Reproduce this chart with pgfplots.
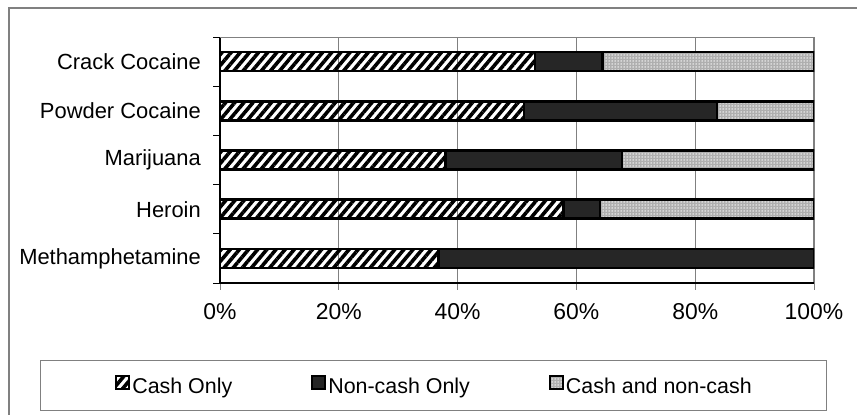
\documentclass[border=0pt]{standalone}
\usepackage{fontspec}
\setmainfont{Liberation Sans}
\usepackage{pgfplots}
\usepackage{pgfplotstable}
\pgfplotsset{compat=1.18}
\usetikzlibrary{patterns,patterns.meta}

\definecolor{darkfill}{RGB}{38,38,38}
\definecolor{checkfill}{RGB}{175,175,175}
\definecolor{framegray}{RGB}{128,128,128}

\pgfplotstableread{
y cash noncash both
0 36.8 63.2 0
1 57.8 6.2 36.0
2 38.0 29.7 32.3
3 51.2 32.5 16.3
4 53.0 11.4 35.6
}\data

\pgfplotsset{
  mylegend/.style={legend image code/.code={\draw[##1,line width=2bp] (1bp,-2bp) rectangle (14bp,11bp);}}
}

\begin{document}
\begin{tikzpicture}[font=\fontsize{22}{26}\selectfont]
\useasboundingbox (0,0) rectangle (857bp,415bp);
\draw[framegray,line width=1.3bp] (9bp,-30bp) rectangle (890bp,407bp);
\begin{axis}[
  at={(220bp,132bp)}, anchor=south west,
  scale only axis, width=594bp, height=246bp,
  xbar stacked, bar width=19bp,
  xmin=0, xmax=100, ymin=-0.5, ymax=4.5,
  axis x line*=bottom, axis y line*=left,
  axis line style={-, black, line width=1.2bp},
  xtick={0,20,40,60,80,100},
  xticklabel={\pgfmathprintnumber{\tick}\%},
  /pgf/number format/assume math mode=true,
  xticklabel style={font=\fontsize{23}{27}\selectfont, inner sep=0pt, anchor=north, yshift=-13bp},
  ytick={0,1,2,3,4},
  yticklabels={Methamphetamine,Heroin,Marijuana,Powder Cocaine,Crack Cocaine},
  yticklabel style={font=\fontsize{22}{26}\selectfont, inner sep=0pt, anchor=east, xshift=-12bp},
  ytick style={draw=none},
  extra y ticks={-0.5,0.5,1.5,2.5,3.5,4.5},
  extra y tick labels={},
  extra y tick style={ytick style={draw=black, line width=1bp}},
  tick align=outside,
  major tick length=7bp,
  xtick style={draw=framegray, line width=1bp},
  xmajorgrids,
  major grid style={framegray, line width=1.2bp},
  legend columns=3,
  legend style={at={(0.35943,-0.41667)}, anchor=center, draw=framegray, line width=1.2bp,
    inner xsep=75bp, inner ysep=14.25bp,
    nodes={inner sep=0pt, text height=16bp, text depth=2.5bp, font=\fontsize{21.5}{25}\selectfont},
    /tikz/every odd column/.append style={column sep=2bp},
    /tikz/every even column/.append style={column sep=79bp}},
]
\draw[framegray, line width=1.2bp] (rel axis cs:0,1) -- (rel axis cs:1,1);
\addplot[draw=black, line width=2.5bp, pattern={Lines[angle=50,distance=7bp,line width=3.6bp]}, pattern color=black, mylegend]
  table[x=cash, y=y] {\data};
\addplot[draw=black, line width=2.5bp, fill=darkfill, mylegend]
  table[x=noncash, y=y] {\data};
\addplot[draw=black, line width=2.5bp, fill=checkfill, postaction={pattern={Dots[distance=3bp,radius=0.75bp]}, pattern color=white}, mylegend]
  table[x=both, y=y] {\data};
\legend{Cash Only, Non-cash Only, Cash and non-cash}
\end{axis}
\end{tikzpicture}
\end{document}
